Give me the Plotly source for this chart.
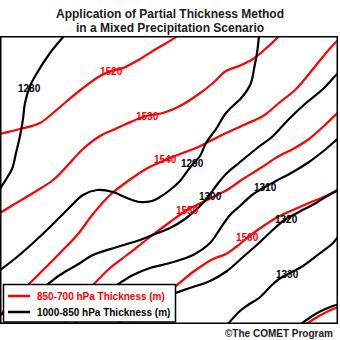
import plotly.graph_objects as go

# ---- contour lines (map coordinates; y grows downward) ----
# 1000-850 hPa thickness (black)
b1280_x = [66, 63, 50, 37, 30, 25, 23, 20, 16, 12, 5, -2]
b1280_y = [33, 37, 53, 73, 86, 103, 119, 136, 153, 169, 181, 192]

b1290_x = [260, 259, 257, 254, 251, 243, 226, 216, 206, 200, 192, 186, 180, 170, 160, 152, 140, 127, 113, 97, 83, 70, 60, 50, 33, 17, 0, -3]
b1290_y = [32, 37, 53, 69, 83, 96, 113, 129, 143, 156, 165, 173, 181, 190, 197, 201, 202, 198, 192, 190, 195, 207, 217, 227, 243, 257, 270, 272]

b1300_x = [343, 339, 323, 306, 289, 273, 256, 239, 226, 216, 208, 198, 185, 170, 155, 140, 117, 93, 77, 60, 40, 20, 0]
b1300_y = [69, 72, 89, 103, 119, 136, 149, 163, 174, 186, 197, 208, 219, 228, 234, 240, 247, 255, 265, 275, 290, 303, 315]

b1310_x = [343, 339, 326, 309, 293, 276, 265, 252, 240, 230, 220, 210, 193, 170, 150, 133, 117, 100, 85, 72]
b1310_y = [136, 138, 149, 162, 172, 181, 187, 195, 206, 215, 229, 243, 255, 263, 268, 275, 285, 298, 312, 328]

b1320_x = [343, 339, 329, 316, 299, 286, 276, 259, 243, 227, 210, 190, 173, 150, 130, 112]
b1320_y = [188, 190, 195, 203, 212, 219, 227, 243, 257, 271, 281, 288, 294, 305, 316, 328]

b1330_x = [343, 339, 333, 319, 303, 290, 279, 270, 259, 248, 240, 228, 225]
b1330_y = [234, 236, 243, 254, 266, 273, 279, 287, 298, 305, 311, 324, 328]

b1340_x = [343, 339, 333, 319, 305, 299]
b1340_y = [303, 304, 306, 312, 321, 326]

# 850-700 hPa thickness (red)
r1520_x = [-3, 0, 20, 40, 53, 67, 83, 100, 111, 123, 140, 156, 176, 180]
r1520_y = [135, 134, 129, 123, 113, 101, 88, 76, 71, 68, 59, 49, 37, 33]

r1530_x = [-3, 0, 13, 33, 53, 67, 83, 100, 113, 126, 146, 163, 180, 196, 213, 226, 239, 253, 263, 278, 281]
r1530_y = [215, 213, 205, 193, 180, 166, 149, 136, 130, 124, 116, 113, 106, 96, 83, 71, 66, 59, 51, 37, 33]

r1540_x = [-3, 0, 15, 30, 43, 60, 78, 93, 110, 128, 146, 165, 180, 196, 210, 226, 246, 263, 279, 296, 313, 326, 334, 340, 343]
r1540_y = [318, 315, 298, 283, 270, 253, 234, 214, 195, 181, 169, 160, 154, 148, 141, 133, 124, 116, 103, 89, 69, 53, 44, 38, 35]

r1550_x = [62, 80, 93, 110, 127, 150, 170, 187, 203, 217, 227, 240, 259, 279, 293, 309, 326, 339, 343]
r1550_y = [328, 300, 285, 268, 255, 237, 222, 210, 202, 195, 190, 181, 169, 156, 149, 139, 124, 112, 110]

r1560_x = [125, 130, 150, 167, 177, 193, 213, 226, 236, 247, 259, 276, 293, 309, 326, 339, 343]
r1560_y = [328, 324, 306, 292, 285, 272, 259, 254, 247, 238, 229, 218, 210, 203, 196, 189, 187]

r1570_x = [300, 305, 319, 333, 339, 343]
r1570_y = [329, 325, 316, 309, 307, 306]

black_lines = [(b1280_x, b1280_y), (b1290_x, b1290_y), (b1300_x, b1300_y),
               (b1310_x, b1310_y), (b1320_x, b1320_y), (b1330_x, b1330_y),
               (b1340_x, b1340_y)]
red_lines = [(r1520_x, r1520_y), (r1530_x, r1530_y), (r1540_x, r1540_y),
             (r1550_x, r1550_y), (r1560_x, r1560_y), (r1570_x, r1570_y)]

# contour labels
black_label_text = ["1280", "1290", "1300", "1310", "1320", "1330"]
black_label_x = [29, 192, 210, 265, 286, 287]
black_label_y = [88, 163, 196, 187, 219, 274]
red_label_text = ["1520", "1530", "1540", "1550", "1560"]
red_label_x = [111, 147, 165, 187, 247]
red_label_y = [71, 116, 159, 210, 237]

legend_labels = ["850-700 hPa Thickness (m)", "1000-850 hPa Thickness (m)"]
title_lines = ["Application of Partial Thickness Method",
               "in a Mixed Precipitation Scenario"]
credit = "\u00a9The COMET Program"

RED = "#ff0000"
BLACK = "#000000"
FONT = "Liberation Sans, Arial, sans-serif"

# plot-area geometry (pixels) used to convert outside text positions to paper coords
X0, X1 = 0, 338
YTOP, YBOT = 36, 324


def px(x):
    return (x - X0) / (X1 - X0)


def py(y):
    return (YBOT - y) / (YBOT - YTOP)


fig = go.Figure()
for xs, ys in red_lines:
    fig.add_trace(go.Scatter(x=xs, y=ys, mode="lines", showlegend=False,
                             hoverinfo="skip",
                             line=dict(color=RED, width=2.2, shape="spline", smoothing=1)))
for xs, ys in black_lines:
    fig.add_trace(go.Scatter(x=xs, y=ys, mode="lines", showlegend=False,
                             hoverinfo="skip",
                             line=dict(color=BLACK, width=2.2, shape="spline", smoothing=1)))

annotations = []
for t, x, y in zip(black_label_text, black_label_x, black_label_y):
    annotations.append(dict(x=x, y=y, text="<b>%s</b>" % t, showarrow=False,
                            xanchor="center", yanchor="middle",
                            font=dict(family=FONT, size=10, color=BLACK)))
for t, x, y in zip(red_label_text, red_label_x, red_label_y):
    annotations.append(dict(x=x, y=y, text="<b>%s</b>" % t, showarrow=False,
                            xanchor="center", yanchor="middle",
                            font=dict(family=FONT, size=10, color=RED)))

# title (two lines)
annotations.append(dict(xref="paper", yref="paper", x=px(170), y=py(14.3),
                        text="<b>%s</b>" % title_lines[0], showarrow=False,
                        xanchor="center", yanchor="middle",
                        font=dict(family=FONT, size=12, color="#1a1a1a")))
annotations.append(dict(xref="paper", yref="paper", x=px(170), y=py(28.0),
                        text="<b>%s</b>" % title_lines[1], showarrow=False,
                        xanchor="center", yanchor="middle",
                        font=dict(family=FONT, size=12, color="#1a1a1a")))
# credit
annotations.append(dict(xref="paper", yref="paper", x=px(335), y=py(333),
                        text="<b>%s</b>" % credit, showarrow=False,
                        xanchor="right", yanchor="middle",
                        font=dict(family=FONT, size=10, color="#1a1a1a")))
# legend text
annotations.append(dict(x=35, y=296, text="<b>%s</b>" % legend_labels[0], showarrow=False,
                        xanchor="left", yanchor="middle",
                        font=dict(family=FONT, size=10, color=RED)))
annotations.append(dict(x=35, y=312, text="<b>%s</b>" % legend_labels[1], showarrow=False,
                        xanchor="left", yanchor="middle",
                        font=dict(family=FONT, size=10, color=BLACK)))

shapes = [
    # plot frame
    dict(type="rect", xref="x", yref="y", x0=0.75, x1=337.25, y0=36.75, y1=323.25,
         line=dict(color=BLACK, width=1.5), layer="above"),
    # legend box
    dict(type="rect", xref="x", yref="y", x0=3.5, x1=175.5, y0=284.5, y1=322,
         line=dict(color=BLACK, width=1.5), fillcolor="white", layer="above"),
    dict(type="line", xref="x", yref="y", x0=8, x1=30, y0=296, y1=296,
         line=dict(color=RED, width=2.5), layer="above"),
    dict(type="line", xref="x", yref="y", x0=8, x1=30, y0=312, y1=312,
         line=dict(color=BLACK, width=2.5), layer="above"),
]

fig.update_layout(
    width=340, height=340, autosize=False,
    margin=dict(l=0, r=2, t=36, b=16, pad=0),
    paper_bgcolor="white", plot_bgcolor="white",
    xaxis=dict(range=[X0, X1], visible=False, fixedrange=True),
    yaxis=dict(range=[YBOT, YTOP], visible=False, fixedrange=True),
    annotations=annotations, shapes=shapes, showlegend=False,
)

fig.write_html("out.html", config={"displayModeBar": False})
